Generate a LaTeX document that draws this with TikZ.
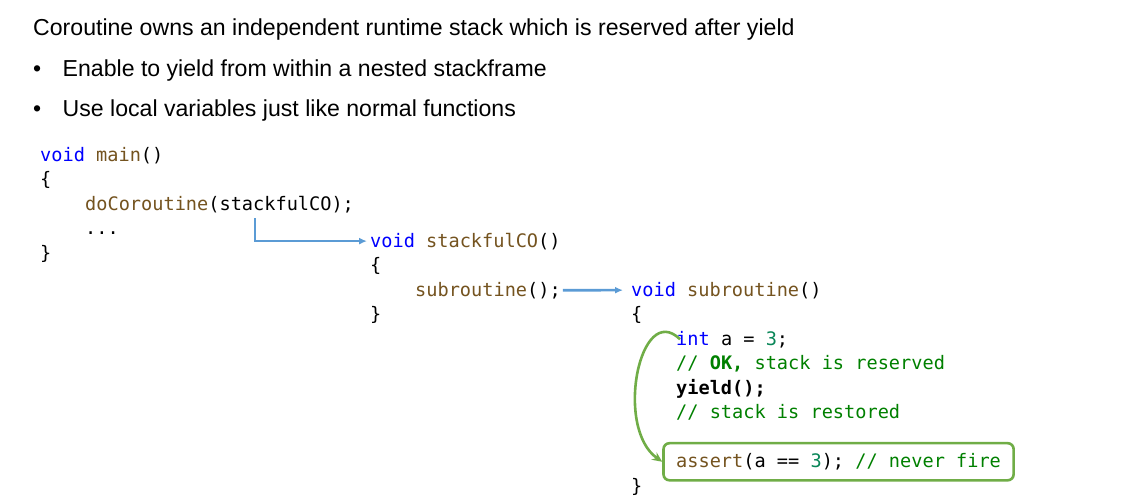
\documentclass[tikz,border=0pt]{standalone}
\usepackage{fontspec}
\setmainfont{Liberation Sans}
\setmonofont{DejaVu Sans Mono}
\usetikzlibrary{arrows.meta,fit}
\definecolor{kwblue}{RGB}{0,0,255}
\definecolor{fnbrown}{RGB}{116,83,31}
\definecolor{cmtgreen}{RGB}{0,128,0}
\definecolor{numteal}{RGB}{9,134,88}
\definecolor{arrowblue}{RGB}{91,155,213}
\definecolor{loopgreen}{RGB}{112,173,71}
\newcommand{\kw}[1]{\textcolor{kwblue}{#1}}
\newcommand{\fname}[1]{\textcolor{fnbrown}{#1}}
\newcommand{\cmt}[1]{\textcolor{cmtgreen}{#1}}
\newcommand{\lit}[1]{\textcolor{numteal}{#1}}
\tikzset{codeline/.style = {anchor=base west, inner sep=0, font=\ttfamily\fontsize{18.6}{22}\selectfont},
         slide/.style = {anchor=base west, inner sep=0, font=\fontsize{23.1}{28}\selectfont},
         callarrow/.style = {draw=arrowblue, line width=2.6pt, -{Latex[length=8pt,width=7pt]}},
         resume/.style = {draw=loopgreen, line width=2.6pt, -{Stealth[length=10pt,width=9pt]}},
         keptbox/.style = {draw=loopgreen, line width=2.6pt, rounded corners=6pt}}

\begin{document}
\begin{tikzpicture}[x=1pt, y=-1pt]
  \useasboundingbox (0,0) rectangle (1126,501);
  \node[slide] (head) at (33,35) {Coroutine owns an independent runtime stack which is reserved after yield};
  \node[slide] (dot1) at (33,76) {\textbullet};
  \node[slide] (pt1) at (62.5,76) {Enable to yield from within a nested stackframe};
  \node[slide] (dot2) at (33,116.5) {\textbullet};
  \node[slide] (pt2) at (62.5,116.5) {Use local variables just like normal functions};

  \node[codeline] (mainsig) at (40,161) {\kw{void} \fname{main}()};
  \node[codeline] (mainopen) at (40,185.5) {\{};
  \node[codeline] (docall) at (85,210) {\fname{doCoroutine}(stackfulCO);};
  \node[codeline] (dots) at (85,234.5) {...};
  \node[codeline] (mainclose) at (40,259) {\}};

  \node[codeline] (stacksig) at (370,247) {\kw{void} \fname{stackfulCO}()};
  \node[codeline] (stackopen) at (370,271.5) {\{};
  \node[codeline] (callsub) at (415,296) {\fname{subroutine}();};
  \node[codeline] (stackclose) at (370,320.5) {\}};

  \node[codeline] (subsig) at (631,296) {\kw{void} \fname{subroutine}()};
  \node[codeline] (subopen) at (631,320.5) {\{};
  \node[codeline] (intln) at (676,345) {\kw{int} a = \lit{3};};
  \node[codeline] (okln) at (676,369.5) {\cmt{// \textbf{OK,} stack is reserved}};
  \node[codeline] (yieldln) at (676,394) {\textbf{yield();}};
  \node[codeline] (restln) at (676,418.5) {\cmt{// stack is restored}};
  \node[codeline] (assertln) at (676,467.5) {\fname{assert}(a == \lit{3}); \cmt{// never fire}};
  \node[codeline] (subclose) at (631,492) {\}};
  \node[keptbox, fit=(assertln), inner xsep=12.5pt, inner ysep=10pt] (kept) {};

  \coordinate (fork) at (255,218);
  \draw[callarrow, shorten >=3pt] (fork) |- (stacksig.west);
  \draw[callarrow, shorten <=2pt, shorten >=8pt] (callsub.east) -- (subsig.west);
  \draw[resume] ([xshift=4pt]intln.west) .. controls (640,300) and (614,428) .. (kept.west);
\end{tikzpicture}
\end{document}
